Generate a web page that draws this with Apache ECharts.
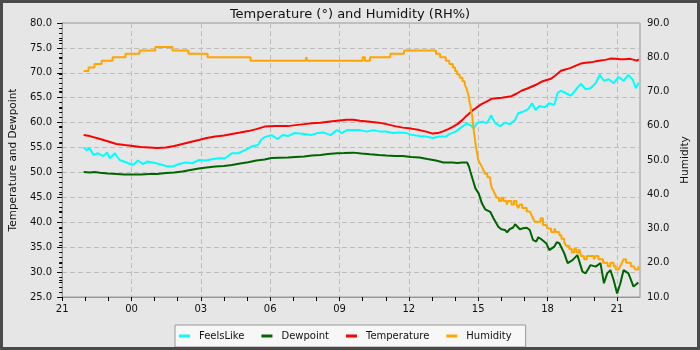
<!DOCTYPE html>
<html>
<head>
<meta charset="utf-8">
<script src="https://cdn.jsdelivr.net/npm/echarts@6/dist/echarts.min.js"></script>
<style>
html,body{margin:0;padding:0;background:#e6e6e6;}
#c{width:700px;height:350px;}
</style>
</head>
<body>
<div id="c"></div>
<script>
// x values: hours after 21:00 on the first day
const startHour = 21;
const seriesNames = ['FeelsLike','Dewpoint','Temperature','Humidity'];

const feelsLike = [[0.93,55.0],[1.05,54.5],[1.2,54.8],[1.35,53.5],[1.55,53.85],[1.78,53.3],[1.95,54.0],[2.06,52.85],[2.28,53.85],[2.49,52.5],[2.78,52.0],[3.06,51.5],[3.28,52.4],[3.49,51.7],[3.7,52.2],[3.92,52.0],[4.2,51.7],[4.49,51.3],[4.77,51.2],[5.06,51.7],[5.34,52.0],[5.63,51.85],[5.91,52.5],[6.2,52.4],[6.48,52.65],[6.77,52.85],[7.05,52.85],[7.34,53.85],[7.62,53.85],[7.91,54.5],[8.19,55.2],[8.48,55.5],[8.6,56.5],[8.76,57.1],[9.05,57.5],[9.33,56.7],[9.54,57.5],[9.76,57.3],[10.04,57.9],[10.47,57.7],[10.76,57.5],[11.04,57.9],[11.32,58.0],[11.61,57.5],[11.89,58.5],[12.1,57.9],[12.32,58.5],[12.6,58.5],[12.89,58.5],[13.18,58.2],[13.46,58.5],[13.75,58.2],[14.03,58.2],[14.32,57.9],[14.6,58.0],[14.88,57.9],[15.17,57.5],[15.46,57.3],[15.74,57.2],[16.03,56.9],[16.31,57.2],[16.6,57.2],[16.74,57.7],[17.02,58.2],[17.31,59.2],[17.52,59.9],[17.66,59.5],[17.81,58.9],[17.95,59.9],[18.16,60.2],[18.38,59.9],[18.56,61.5],[18.73,59.9],[18.95,59.3],[19.16,60.0],[19.37,59.7],[19.59,60.5],[19.73,61.9],[19.94,62.2],[20.16,62.7],[20.33,63.9],[20.48,62.55],[20.65,63.35],[20.87,63.1],[21.08,63.9],[21.29,63.55],[21.44,66.0],[21.58,66.4],[21.8,65.9],[22.01,65.4],[22.22,66.6],[22.44,67.8],[22.65,66.7],[22.86,66.9],[23.08,67.9],[23.26,69.6],[23.44,68.4],[23.65,68.7],[23.86,67.9],[24.07,69.2],[24.29,68.4],[24.5,69.6],[24.69,68.6],[24.82,66.9],[24.94,68.0]];

const dewpoint = [[0.93,50.1],[1.2,50.0],[1.4,50.1],[1.64,49.96],[2.0,49.8],[2.35,49.7],[2.7,49.6],[3.06,49.6],[3.4,49.6],[3.77,49.7],[4.1,49.7],[4.49,49.9],[4.85,50.0],[5.2,50.2],[5.55,50.5],[5.91,50.8],[6.25,51.0],[6.62,51.2],[7.0,51.3],[7.34,51.5],[7.7,51.8],[8.05,52.05],[8.4,52.4],[8.76,52.6],[9.05,52.9],[9.4,52.95],[9.76,53.0],[10.1,53.1],[10.47,53.2],[10.8,53.4],[11.18,53.5],[11.5,53.7],[11.89,53.85],[12.2,53.9],[12.6,53.98],[12.95,53.8],[13.32,53.65],[13.7,53.5],[14.03,53.4],[14.4,53.3],[14.74,53.3],[15.1,53.1],[15.46,53.0],[15.8,52.7],[16.17,52.4],[16.5,52.0],[16.88,52.0],[17.1,51.9],[17.31,52.0],[17.52,52.0],[17.6,51.2],[17.66,50.2],[17.77,48.5],[17.88,46.8],[18.02,45.8],[18.16,43.8],[18.3,42.6],[18.52,42.1],[18.66,40.8],[18.87,39.1],[19.0,38.6],[19.16,38.45],[19.25,38.0],[19.37,38.65],[19.5,38.9],[19.6,39.6],[19.66,39.25],[19.8,38.6],[19.94,38.8],[20.1,38.9],[20.23,38.45],[20.37,36.45],[20.51,36.1],[20.6,37.0],[20.73,36.6],[20.94,35.8],[21.08,34.4],[21.29,35.1],[21.4,36.0],[21.51,35.8],[21.72,33.8],[21.87,31.8],[22.08,32.4],[22.29,33.4],[22.51,30.1],[22.65,29.75],[22.86,31.4],[23.08,31.1],[23.29,31.8],[23.44,27.75],[23.58,29.75],[23.72,30.4],[23.86,28.4],[24.01,25.7],[24.15,27.75],[24.29,30.4],[24.5,29.75],[24.72,27.1],[24.93,27.9]];

const temperature = [[0.93,57.5],[1.2,57.3],[1.64,56.7],[2.0,56.2],[2.35,55.7],[2.7,55.5],[3.06,55.3],[3.4,55.1],[3.77,55.0],[4.1,54.9],[4.49,55.0],[4.85,55.3],[5.2,55.7],[5.55,56.1],[5.91,56.5],[6.25,56.9],[6.62,57.2],[7.0,57.4],[7.34,57.7],[7.7,58.0],[8.05,58.3],[8.4,58.7],[8.76,59.2],[9.19,59.3],[9.76,59.3],[10.1,59.5],[10.47,59.7],[10.8,59.9],[11.18,60.0],[11.5,60.2],[11.89,60.4],[12.3,60.6],[12.6,60.6],[12.89,60.4],[13.32,60.2],[13.7,60.0],[14.03,59.7],[14.4,59.3],[14.74,59.0],[15.1,58.8],[15.46,58.5],[15.75,58.2],[16.03,57.8],[16.25,57.9],[16.45,58.2],[16.7,58.7],[16.88,59.1],[17.1,59.7],[17.31,60.5],[17.5,61.4],[17.74,62.4],[17.95,63.1],[18.16,63.75],[18.4,64.3],[18.59,64.8],[19.02,65.0],[19.44,65.3],[19.65,65.8],[19.87,66.4],[20.1,66.8],[20.3,67.2],[20.5,67.6],[20.73,68.2],[21.0,68.6],[21.15,68.8],[21.35,69.5],[21.58,70.4],[21.8,70.7],[22.0,71.0],[22.2,71.4],[22.44,71.85],[22.65,72.0],[22.86,72.1],[23.08,72.3],[23.29,72.45],[23.5,72.6],[23.72,72.85],[23.95,72.8],[24.15,72.7],[24.35,72.7],[24.57,72.8],[24.75,72.6],[24.86,72.45],[24.95,72.7]];

const humidity = [[0.93,76],[1.14,77],[1.40,78],[1.71,79],[2.18,80],[2.74,81],[3.35,82],[4.03,83],[4.77,82],[5.46,81],[6.29,80],[8.15,79],[10.55,80],[10.62,79],[13.0,80],[13.1,79],[13.32,80],[14.2,81],[14.79,82],[16.17,81],[16.35,80],[16.6,79],[16.75,78],[16.9,77],[17.0,76],[17.09,75],[17.2,74],[17.32,73],[17.42,72],[17.49,71],[17.53,70],[17.58,69],[17.62,67],[17.66,66],[17.7,64],[17.74,63],[17.78,60],[17.82,58],[17.86,56],[17.9,54],[17.95,52],[18.0,50],[18.08,49],[18.16,48],[18.23,47],[18.3,46],[18.4,45],[18.52,44],[18.58,42],[18.66,41],[18.73,40],[18.8,39],[18.9,38],[19.0,39],[19.09,38],[19.23,37],[19.3,38],[19.44,37],[19.55,38],[19.66,37],[19.73,36],[19.8,37],[19.9,36],[20.01,36],[20.1,35],[20.23,35],[20.3,34],[20.37,33],[20.45,32],[20.58,32],[20.7,33],[20.8,31],[20.94,31],[21.0,30],[21.15,29],[21.3,30],[21.37,29],[21.51,28],[21.6,27],[21.72,26],[21.8,25],[21.94,24],[22.05,23],[22.15,24],[22.25,23],[22.37,24],[22.45,22],[22.58,21],[22.7,22],[22.86,22],[23.0,21],[23.08,22],[23.2,21],[23.29,21],[23.4,20],[23.5,20],[23.6,19],[23.72,20],[23.86,19],[23.95,18],[24.07,18],[24.15,19],[24.22,20],[24.29,21],[24.4,20],[24.5,20],[24.6,19],[24.72,19],[24.8,18],[24.93,19]];

const colors = ['#00ffff','#006400','#ff0000','#ffa500'];
const FONT = 'DejaVu Sans';

const chart = echarts.init(document.getElementById('c'), null, {renderer:'canvas'});
function hourLabel(v){
  if (v % 3 !== 0 || v > 24) return '';
  const h = (startHour + v) % 24;
  return (h < 10 ? '0' : '') + h;
}
const series = [feelsLike, dewpoint, temperature, humidity].map((d,i)=>({
  name: seriesNames[i],
  type: 'line',
  data: d,
  xAxisIndex: 0,
  yAxisIndex: i === 3 ? 1 : 0,
  showSymbol: false,
  step: i === 3 ? 'end' : false,
  lineStyle: {width: 2, color: colors[i]},
  itemStyle: {color: colors[i]},
  animation: false
}));

chart.setOption({
  backgroundColor: '#e6e6e6',
  animation: false,
  textStyle: {fontFamily: FONT},
  title: {
    text: 'Temperature (°) and Humidity (RH%)',
    left: 'center', top: 3,
    textStyle: {fontFamily: FONT, fontSize: 13, fontWeight: 'normal', color: '#111'}
  },
  grid: {left: 55, right: 60, top: 23, bottom: 53, show: true, borderColor: '#999', borderWidth: 1, backgroundColor: 'transparent'},
  legend: {
    data: seriesNames,
    left: 175, top: 325,
    orient: 'horizontal',
    icon: 'rect', itemWidth: 11, itemHeight: 3, itemGap: 17,
    padding: [6, 14, 6, 4],
    backgroundColor: '#f7f7f7', borderColor: '#999', borderWidth: 1, borderRadius: 0,
    textStyle: {fontFamily: FONT, fontSize: 10, color: '#111', padding: [0,0,0,4]}
  },
  xAxis: [{
    type: 'value', min: 0, max: 25, interval: 1,
    axisLine: {show: true, lineStyle: {color: '#999'}},
    axisTick: {show: true, length: 4, lineStyle: {color: '#000'}},
    axisLabel: {formatter: hourLabel, fontFamily: FONT, fontSize: 10, color: '#111', margin: 7, showMaxLabel: false},
    splitLine: {show: false}
  },{
    type: 'value', min: 0, max: 25, interval: 3,
    axisLine: {show: false}, axisTick: {show: false}, axisLabel: {show: false},
    splitLine: {show: true, lineStyle: {color: '#bdbdbd', type: [5,3], width: 1}}
  }],
  yAxis: [{
    type: 'value', min: 25, max: 80, interval: 5, position: 'left',
    name: 'Temperature and Dewpoint', nameLocation: 'middle', nameGap: 34,
    nameTextStyle: {fontFamily: FONT, fontSize: 10.5, color: '#111'},
    axisLine: {show: true, lineStyle: {color: '#999'}},
    axisTick: {show: true, length: 5, lineStyle: {color: '#000'}},
    minorTick: {show: true, splitNumber: 5, length: 3, lineStyle: {color: '#000'}},
    axisLabel: {formatter: v => v.toFixed(1), fontFamily: FONT, fontSize: 10, color: '#111', margin: 10},
    splitLine: {show: true, lineStyle: {color: '#bdbdbd', type: [5,3], width: 1}}
  },{
    type: 'value', min: 10, max: 90, interval: 5, position: 'right',
    name: 'Humidity', nameLocation: 'middle', nameGap: 37,
    nameTextStyle: {fontFamily: FONT, fontSize: 10.5, color: '#111'},
    axisLine: {show: true, lineStyle: {color: '#999'}},
    axisTick: {show: true, inside: true, length: 3, lineStyle: {color: '#000'}},
    axisLabel: {formatter: v => (v % 10 === 0 ? v.toFixed(1) : ''), fontFamily: FONT, fontSize: 10, color: '#111', margin: 7},
    splitLine: {show: false}
  }],
  series: series,
  graphic: [{
    type: 'rect', silent: true, z: 100,
    shape: {x: 1.5, y: 1.5, width: 697, height: 347},
    style: {fill: 'none', stroke: '#4a4a4a', lineWidth: 3}
  }]
});
</script>
</body>
</html>
